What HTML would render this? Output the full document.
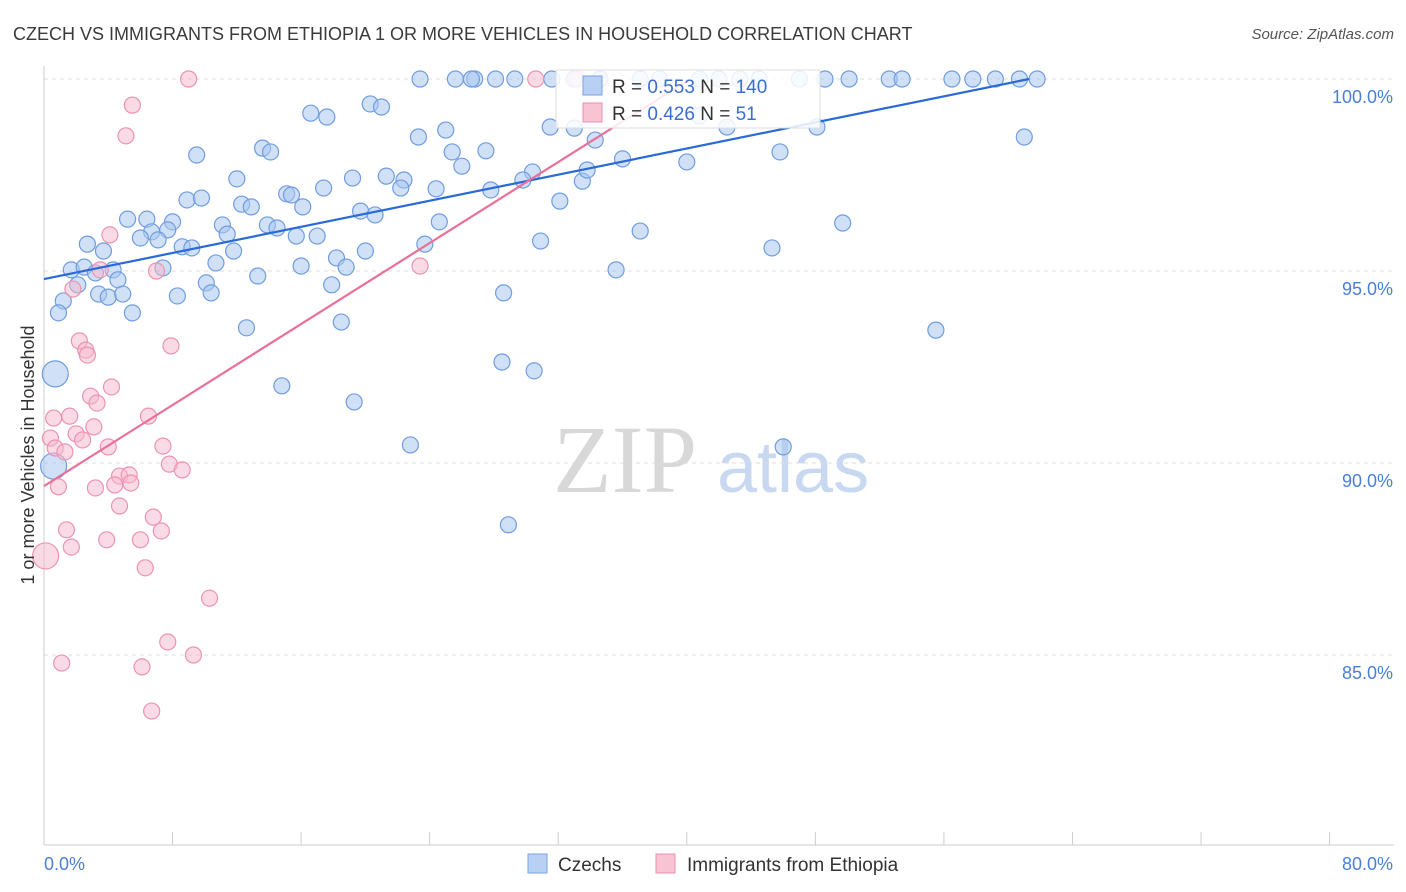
<!DOCTYPE html>
<html><head><meta charset="utf-8"><style>
body{margin:0;background:#fff;font-family:"Liberation Sans",sans-serif}
svg{display:block}
</style></head><body>
<svg width="1406" height="892">
<text x="13" y="40" font-size="18" fill="#3a3a3a">CZECH VS IMMIGRANTS FROM ETHIOPIA 1 OR MORE VEHICLES IN HOUSEHOLD CORRELATION CHART</text>
<text x="1394" y="39" font-size="15" font-style="italic" fill="#555" text-anchor="end">Source: ZipAtlas.com</text>
<g>
<text x="553" y="492" font-size="96" font-family="Liberation Serif,serif" fill="#d8d8d8">ZIP</text>
<text x="717" y="492" font-size="72" fill="#c8d8f0">atlas</text>
</g>
<g id="grid"></g>
<g id="axes"></g>
<g id="pts"></g>
<g id="lines"></g>
<text transform="translate(34,455) rotate(-90)" font-size="18" fill="#333" text-anchor="middle">1 or more Vehicles in Household</text>
<text x="44" y="870" font-size="18" fill="#4a7fd6">0.0%</text>
<text x="1393" y="870" font-size="18" fill="#4a7fd6" text-anchor="end">80.0%</text>
<g>
<rect x="556" y="70" width="264" height="58" fill="#fff" fill-opacity="0.85" stroke="#ddd"/>
<rect x="583" y="76" width="19" height="19" fill="#b8d0f4" stroke="#7aa3e0"/>
<rect x="583" y="103" width="19" height="19" fill="#f8c4d4" stroke="#e890ac"/>
<text x="612" y="93" font-size="19" fill="#333">R = <tspan fill="#3a6fd0">0.553</tspan>   N = <tspan fill="#3a6fd0">140</tspan></text>
<text x="612" y="120" font-size="19" fill="#333">R = <tspan fill="#3a6fd0">0.426</tspan>   N = <tspan fill="#3a6fd0">  51</tspan></text>
</g>
<g>
<rect x="528" y="854" width="19" height="19" fill="#b8d0f4" stroke="#7aa3e0"/>
<text x="558" y="871" font-size="19" fill="#333">Czechs</text>
<rect x="656" y="854" width="19" height="19" fill="#f8c4d4" stroke="#e890ac"/>
<text x="687" y="871" font-size="19" fill="#333">Immigrants from Ethiopia</text>
</g>
</svg>
<script>
const yTicks=[100,95,90,85];
const xTicks=[0,8,16,24,32,40,48,56,64,72,80];
const czX=[23.4,25.6,26.8,28.1,29.3,31.6,33.0,37.1,38.3,40.8,42.0,44.5,47.0,48.6,50.1,52.6,53.4,56.5,57.8,59.2,60.7,61.8,26.6,34.6,43.3,16.6,17.6,20.3,21.0,23.3,25.0,31.5,33.0,34.3,40.8,42.5,48.1,61.0,9.5,13.6,14.1,25.4,26.0,27.5,30.4,33.5,33.8,36.0,40.0,45.8,12.0,17.4,19.2,21.3,22.4,22.2,24.4,27.8,29.8,32.1,8.9,9.8,12.3,12.9,15.1,15.4,16.1,19.7,20.6,24.6,5.2,6.4,8.0,11.1,6.7,7.7,11.4,13.9,14.5,15.7,17.0,6.0,7.1,8.6,9.2,11.8,2.7,3.7,30.9,37.1,45.3,49.7,18.2,20.0,23.7,10.7,16.0,18.8,1.7,2.5,3.2,4.3,4.6,7.4,2.1,3.4,4.0,4.9,8.3,10.1,10.4,13.3,17.9,28.6,35.6,1.2,0.9,5.5,12.6,18.5,55.5,0.7,28.5,30.5,14.8,19.3,22.8,46.0,0.6,28.9];
const czY=[100,100,100,100,100,100,100,100,100,100,100,100,100,100,100,100,100,100,100,100,100,100,100,100,100,99.11,99.01,99.35,99.27,98.49,98.67,98.75,98.72,98.41,99.04,98.75,98.75,98.49,98.02,98.20,98.10,98.10,97.73,98.13,97.58,97.34,97.63,97.92,97.84,98.10,97.40,97.16,97.42,97.47,97.37,97.16,97.14,97.11,97.37,96.82,96.85,96.90,96.74,96.67,97.01,96.98,96.67,96.56,96.46,96.28,96.35,96.35,96.28,96.20,96.02,96.07,95.96,96.20,96.12,95.91,95.91,95.86,95.81,95.63,95.60,95.52,95.70,95.52,95.78,96.04,95.60,96.25,95.34,95.52,95.70,95.21,95.13,95.10,95.03,95.10,94.95,95.03,94.77,95.08,94.64,94.40,94.32,94.40,94.35,94.69,94.43,94.87,94.64,94.43,95.03,94.22,93.91,93.91,93.52,93.67,93.46,92.32,92.63,92.40,92.01,91.59,90.47,90.42,89.92,88.39];
const etX=[9.0,5.5,5.1,4.1,3.5,7.0,1.8,23.4,2.2,2.6,2.7,7.9,4.2,2.9,3.3,6.5,0.6,1.6,0.4,2.0,2.4,3.1,0.7,1.3,4.0,7.4,4.7,5.3,4.4,5.4,3.2,7.8,8.6,0.9,4.7,6.8,1.4,7.3,1.7,3.9,6.0,0.1,6.3,10.3,7.7,9.3,1.1,6.1,6.7,33.2,30.6];
const etY=[100,99.32,98.52,95.94,95.03,95.0,94.53,95.13,93.18,92.94,92.81,93.05,91.98,91.74,91.56,91.22,91.17,91.22,90.65,90.76,90.60,90.94,90.39,90.29,90.42,90.44,89.66,89.69,89.43,89.48,89.35,89.97,89.82,89.38,88.88,88.59,88.26,88.23,87.81,88.0,88.0,87.58,87.27,86.48,85.34,85.0,84.79,84.69,83.54,100,100];
const czTrend=[[0,94.79],[61.3,100]];
const etTrend=[[0,89.40],[40.2,100]];
const X=v=>44+v*16.07, Y=v=>79+(100-v)*38.4;
const NS='http://www.w3.org/2000/svg';
function mk(t,a,p){const e=document.createElementNS(NS,t);for(const k in a)e.setAttribute(k,a[k]);p.appendChild(e);return e;}
const grid=document.getElementById('grid'),axes=document.getElementById('axes'),pts=document.getElementById('pts'),lines=document.getElementById('lines');
yTicks.forEach(t=>{
 const l=mk('line',{x1:44,x2:1394,y1:Y(t),y2:Y(t),stroke:'#ddd','stroke-dasharray':'4,4'},grid);
 
 
 const tx=mk('text',{x:1393,y:Y(t)+24,'font-size':18,fill:'#4a7fd6','text-anchor':'end'},grid);
 tx.textContent=t.toFixed(1)+'%';
 
 
});
const ya=mk('line',{x1:44,x2:44,y1:66,y2:845,stroke:'#ccc'},axes);


const xa=mk('line',{x1:44,x2:1394,y1:845,y2:845,stroke:'#ccc'},axes);


xTicks.forEach(t=>{
 const l=mk('line',{x1:X(t),x2:X(t),y1:832,y2:845,stroke:'#ccc'},axes);
 
 
});
czX.forEach((x,i)=>{
 const big=(x<1&&czY[i]<93);
 const c=mk('circle',{cx:X(x),cy:Y(czY[i]),r:big?13:8,fill:'#a9c6f0','fill-opacity':0.55,stroke:'#6f9de0','stroke-width':1.2},pts);
 
 
});
etX.forEach((x,i)=>{
 const big=(x<0.5&&etY[i]<88);
 const c=mk('circle',{cx:X(x),cy:Y(etY[i]),r:big?13:8,fill:'#f6b8cb','fill-opacity':0.5,stroke:'#ec93b0','stroke-width':1.2},pts);
 
 
});
const bl=mk('line',{x1:X(czTrend[0][0]),y1:Y(czTrend[0][1]),x2:X(czTrend[1][0]),y2:Y(czTrend[1][1]),stroke:'#2a6ad6','stroke-width':2.2},lines);


const pl=mk('line',{x1:X(etTrend[0][0]),y1:Y(etTrend[0][1]),x2:X(etTrend[1][0]),y2:Y(etTrend[1][1]),stroke:'#e8709a','stroke-width':2.2},lines);


</script>
</body></html>
